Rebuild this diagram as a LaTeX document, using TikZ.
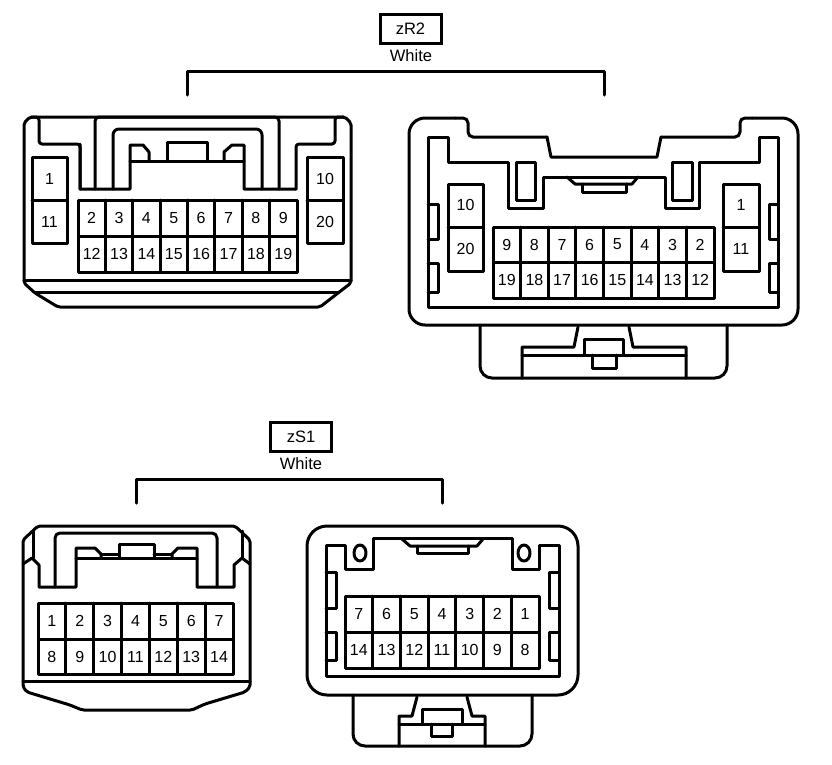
\documentclass[tikz,border=0pt]{standalone}
\usepackage{fontspec}
\setmainfont{Liberation Sans}
\tikzset{
  wire/.style={line width=3pt,line cap=round,line join=round,draw=black},
  pinlabel/.style={font=\fontsize{16}{16}\selectfont,inner sep=0pt,text=black},
  tagbox/.style={draw=black,line width=3pt,minimum width=61pt,minimum height=29pt,inner sep=0pt,font=\fontsize{16.5}{16.5}\selectfont},
  taglabel/.style={font=\fontsize{16.5}{16.5}\selectfont,inner sep=0pt}
}
% \pinrow{prefix}{x0}{x1}{ytop}{ybot}{n}{labels}
\newcommand{\pinrow}[7]{%
  \draw[wire] (#2,#4) rectangle (#3,#5);
  \pgfmathsetmacro{\cw}{(#3-#2)/#6}
  \pgfmathsetmacro{\ym}{(#4+#5)/2}
  \foreach \t [count=\i] in {#7}{
    \ifnum\i<#6 \draw[wire] ({#2+\i*\cw},#4) -- ({#2+\i*\cw},#5);\fi
    \node[pinlabel] (#1-\t) at ({#2+(\i-.5)*\cw},\ym) {\t};
  }
}
\begin{document}
\begin{tikzpicture}[x=1pt,y=-1pt]
\useasboundingbox (0,0) rectangle (832,764);
% titles
\node[tagbox] (tagR) at (410.5,28.5) {zR2};
\node[taglabel] (whiteR) at (411,56) {White};
\draw[wire] (187,95) -- (187,71) -- (604,71) -- (604,95);
\node[tagbox] (tagS) at (301,437) {zS1};
\node[taglabel] (whiteS) at (301,464) {White};
\draw[wire] (136,503) -- (136,479) -- (442,479) -- (442,503);

% ---------- connector A (top left)
\draw[wire,rounded corners=2pt] (30,117) -- (345,117) -- (351,123) -- (351,283) -- (338,293) -- (320,307) -- (58,307) -- (35,293) -- (24,283) -- (24,123) -- cycle;
\draw[wire] (24,280) -- (351,280);
\draw[wire] (35,292) -- (338,292);
\draw[wire,rounded corners=3pt] (31,117) -- (39,117) -- (39,144) -- (80,144) -- (80,189);
\draw[wire] (80,144) -- (80,189) -- (130,189) -- (130,145) -- (143,145) -- (149,152) -- (149,161);
\draw[wire,rounded corners=3pt] (344,117) -- (335,117) -- (335,144) -- (296,144) -- (296,189);
\draw[wire] (296,189) -- (244,189) -- (244,145) -- (232,145) -- (224,152) -- (224,161);
\draw[wire] (130,161) -- (244,161);
\draw[wire] (167,161) -- (167,142) -- (207,142) -- (207,161);
\draw[wire,rounded corners=4pt] (95,189) -- (95,117) -- (279,117) -- (279,189);
\draw[wire,rounded corners=6pt] (113,189) -- (113,129) -- (262,129) -- (262,189);
\draw[wire] (32,157) rectangle (67,243); \draw[wire] (32,200) -- (67,200);
\node[pinlabel] (a-1) at (49.5,179) {1};
\node[pinlabel] (a-11) at (49.5,221.5) {11};
\draw[wire] (307,157) rectangle (343,243); \draw[wire] (307,200) -- (343,200);
\node[pinlabel] (a-10) at (325,179) {10};
\node[pinlabel] (a-20) at (325,221.5) {20};
\pinrow{a}{78}{297}{200}{236}{8}{2,3,4,5,6,7,8,9}
\pinrow{a}{78}{297}{236}{272}{8}{12,13,14,15,16,17,18,19}

% ---------- connector B (top right)
\draw[wire,rounded corners=16pt] (455,118) -- (409,118) -- (409,325) -- (798,325) -- (798,118) -- (752,118);
\draw[wire,rounded corners=5pt] (455,118) -- (468,118) -- (468,137) -- (547,137);
\draw[wire,rounded corners=5pt] (752,118) -- (740,118) -- (740,137) -- (661,137);
\draw[wire] (547,137) -- (551,157) -- (657,157) -- (661,137);
\draw[wire] (428,137) -- (428,307) -- (778,307) -- (778,137) -- (759,137) -- (759,162) -- (699,162) -- (699,208) -- (665,208) -- (665,177) -- (543,177) -- (543,208) -- (508,208) -- (508,162) -- (448,162) -- (448,137) -- cycle;
\draw[wire] (516,162) rectangle (535,200);
\draw[wire] (672,162) rectangle (692,200);
\draw[wire] (567,177) -- (575,184) -- (632,184) -- (638,177);
\draw[wire] (582,184) -- (582,192) -- (626,192) -- (626,184);
\draw[wire] (448,184) rectangle (483,271); \draw[wire] (448,227) -- (483,227);
\node[pinlabel] (b-10) at (465.5,205) {10};
\node[pinlabel] (b-20) at (465.5,249) {20};
\draw[wire] (723,184) rectangle (759,271); \draw[wire] (723,227) -- (759,227);
\node[pinlabel] (b-1) at (741,205) {1};
\node[pinlabel] (b-11) at (741,249) {11};
\pinrow{b}{493}{714}{227}{262}{8}{9,8,7,6,5,4,3,2}
\pinrow{b}{493}{714}{262}{298}{8}{19,18,17,16,15,14,13,12}
\draw[wire] (428,204) -- (438,204) -- (438,239) -- (428,239);
\draw[wire] (428,263) -- (438,263) -- (438,292) -- (428,292);
\draw[wire] (778,204) -- (769,204) -- (769,239) -- (778,239);
\draw[wire] (778,263) -- (769,263) -- (769,292) -- (778,292);
\draw[wire,rounded corners=12pt] (480,325) -- (480,378) -- (727,378) -- (727,325);
\draw[wire] (578,327) -- (574,347) -- (522,347) -- (522,378);
\draw[wire] (629,327) -- (633,347) -- (686,347) -- (686,378);
\draw[wire] (522,355) -- (686,355);
\draw[wire] (584,355) -- (584,339) -- (623,339) -- (623,355);
\draw[wire] (592,355) -- (592,368) -- (616,368) -- (616,355);

% ---------- connector C (bottom left)
\draw[wire,rounded corners=2pt] (38,526) -- (235,526) -- (250,540) -- (250,687) -- (245,692) -- (205,704) -- (192,710) -- (82,710) -- (70,705) -- (27,692) -- (23,687) -- (23,540) -- cycle;
\draw[wire] (23,681) -- (250,681);
\draw[wire] (33,530) -- (33,558);
\draw[wire] (23,564) -- (32,558) -- (39,565) -- (39,587) -- (76,587) -- (76,548) -- (95,548) -- (101,554) -- (101,558);
\draw[wire] (242,531) -- (242,558);
\draw[wire] (250,564) -- (242,558) -- (234,565) -- (234,587) -- (197,587) -- (197,548) -- (178,548) -- (172,554) -- (172,558);
\draw[wire] (76,558) -- (197,558);
\draw[wire] (101,554) -- (119,554);
\draw[wire] (154,554) -- (172,554);
\draw[wire] (119,558) -- (119,544) -- (154,544) -- (154,558);
\draw[wire,rounded corners=5pt] (55,587) -- (55,533) -- (217,533) -- (217,587);
\pinrow{c}{38}{233}{603}{639}{7}{1,2,3,4,5,6,7}
\pinrow{c}{38}{233}{639}{674}{7}{8,9,10,11,12,13,14}

% ---------- connector D (bottom right)
\draw[wire,rounded corners=20pt] (307,526) rectangle (578,695);
\draw[wire] (326,545) -- (326,676) -- (559,676) -- (559,545) -- (539,545) -- (539,569) -- (512,569) -- (512,538) -- (373,538) -- (373,569) -- (345,569) -- (345,545) -- cycle;
\draw[wire] (360,553) ellipse (6pt and 8pt);
\draw[wire] (524,553) ellipse (6pt and 8pt);
\draw[wire] (402,539) -- (410,546) -- (477,546) -- (483,539);
\draw[wire] (417,546) -- (417,553) -- (468,553) -- (468,546);
\pinrow{d}{345}{539}{596}{632}{7}{7,6,5,4,3,2,1}
\pinrow{d}{345}{539}{632}{668}{7}{14,13,12,11,10,9,8}
\draw[wire] (326,572) -- (336,572) -- (336,608) -- (326,608);
\draw[wire] (326,632) -- (336,632) -- (336,660) -- (326,660);
\draw[wire] (559,572) -- (549,572) -- (549,608) -- (559,608);
\draw[wire] (559,632) -- (549,632) -- (549,660) -- (559,660);
\draw[wire,rounded corners=12pt] (353,695) -- (353,746) -- (532,746) -- (532,695);
\draw[wire] (417,697) -- (412,716) -- (399,716) -- (399,746);
\draw[wire] (467,697) -- (472,716) -- (485,716) -- (485,746);
\draw[wire] (399,724) -- (485,724);
\draw[wire] (422,724) -- (422,709) -- (462,709) -- (462,724);
\draw[wire] (431,724) -- (431,736) -- (452,736) -- (452,724);
\end{tikzpicture}
\end{document}
